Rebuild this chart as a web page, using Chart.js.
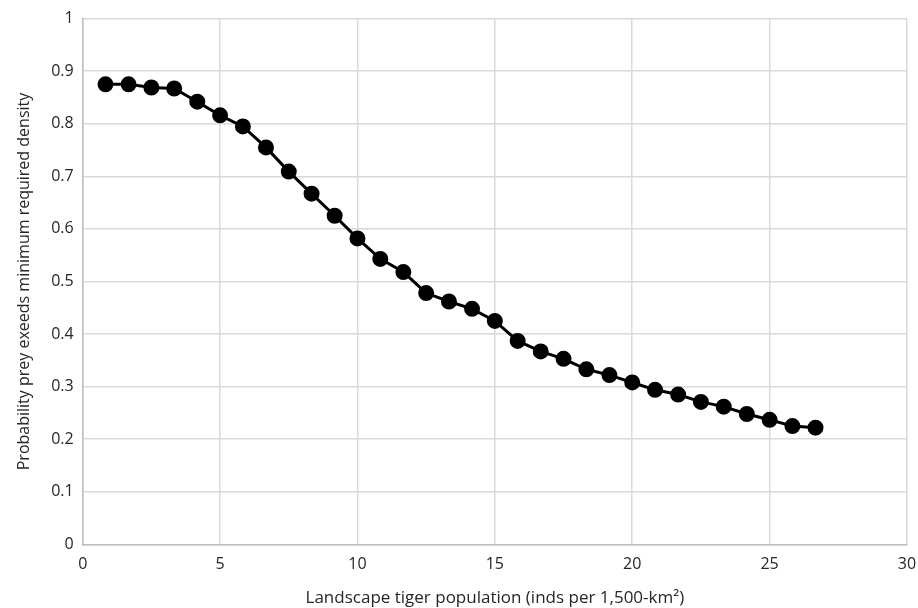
<!DOCTYPE html>
<html>
<head>
<meta charset="utf-8">
<script src="https://cdn.jsdelivr.net/npm/chart.js@4/dist/chart.umd.min.js"></script>
<style>
  html, body { margin: 0; padding: 0; background: #fff; }
  #chart { display: block; }
</style>
</head>
<body>
<canvas id="chart" width="918" height="608"></canvas>
<script>
// tiger population (x) and probability values (y)
const tigerPop = [0.83, 1.67, 2.5, 3.33, 4.17, 5.0, 5.83, 6.67, 7.5, 8.33,
    9.17, 10.0, 10.83, 11.67, 12.5, 13.33, 14.17, 15.0, 15.83, 16.67,
    17.5, 18.33, 19.17, 20.0, 20.83, 21.67, 22.5, 23.33, 24.17, 25.0,
    25.83, 26.67];
const probPrey = [0.875, 0.875, 0.869, 0.867, 0.842, 0.816, 0.795, 0.755, 0.709, 0.667,
    0.625, 0.582, 0.543, 0.518, 0.478, 0.462, 0.448, 0.425, 0.387, 0.367,
    0.353, 0.333, 0.322, 0.308, 0.294, 0.285, 0.271, 0.262, 0.248, 0.237,
    0.225, 0.222];

const xTitle = 'Landscape tiger population (inds per 1,500-km\u00B2)';
const yTitle = 'Probability prey exeeds minimum required density';

const points = tigerPop.map((x, i) => ({ x: x, y: probPrey[i] }));
const textColor = '#262626';

const ctx = document.getElementById('chart');
new Chart(ctx, {
    type: 'line',
    data: {
        datasets: [{
            data: points,
            borderColor: '#000',
            backgroundColor: '#000',
            borderWidth: 3,
            pointRadius: 6.5,
            pointHoverRadius: 6.5,
            tension: 0
        }]
    },
    options: {
        responsive: false,
        animation: false,
        layout: { padding: { top: 8, right: 11, left: 11, bottom: 0 } },
        plugins: {
            legend: { display: false },
            tooltip: { enabled: false }
        },
        scales: {
            x: {
                type: 'linear',
                min: 0,
                max: 30,
                // let the "30" label hang into the right margin
                afterFit: s => { s.paddingRight = 0; },
                ticks: { stepSize: 5, color: textColor, font: { family: 'Open Sans', size: 16 }, padding: 10 },
                grid: { color: '#d9d9d9', lineWidth: 1.5, drawTicks: false },
                border: { color: '#bfbfbf', width: 1.5 },
                title: { display: true, text: xTitle, color: textColor, font: { family: 'Open Sans', size: 17 }, padding: { top: 4, bottom: 0 } }
            },
            y: {
                min: 0,
                max: 1,
                ticks: {
                    stepSize: 0.1,
                    color: textColor,
                    font: { family: 'Open Sans', size: 16 },
                    padding: 9,
                    callback: v => String(Math.round(v * 10) / 10)
                },
                grid: { color: '#d9d9d9', lineWidth: 1.5, drawTicks: false },
                border: { color: '#bfbfbf', width: 1.5 },
                title: { display: true, text: yTitle, color: textColor, font: { family: 'Open Sans', size: 16 }, padding: { bottom: 8 } }
            }
        }
    }
});
</script>
</body>
</html>
